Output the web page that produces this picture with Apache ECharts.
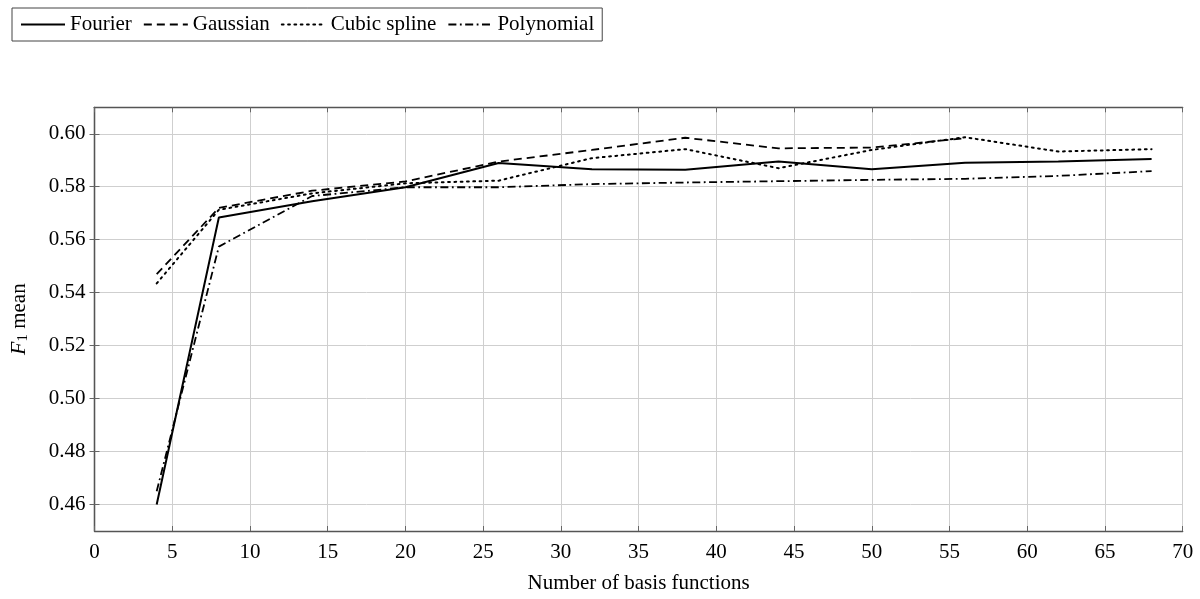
<!DOCTYPE html>
<html>
<head>
<meta charset="utf-8">
<script src="https://cdn.jsdelivr.net/npm/echarts@6/dist/echarts.min.js"></script>
<style>html,body{margin:0;padding:0;background:#fff;}#c{width:1200px;height:599px;}</style>
</head>
<body>
<div id="c"></div>
<script>
const basisCounts = [4, 8, 14, 20, 26, 32, 38, 44, 50, 56, 62, 68];
const fourier    = [0.460, 0.5684, 0.5745, 0.5798, 0.5890, 0.5866, 0.5864, 0.5895, 0.5866, 0.5891, 0.5895, 0.5905];
const gaussian   = [0.547, 0.5720, 0.5785, 0.5820, 0.5895, 0.5939, 0.5985, 0.5945, 0.5948, 0.5983, null, null];
const cubicSpline= [0.5435, 0.5713, 0.5775, 0.5813, 0.5823, 0.5908, 0.5942, 0.5870, 0.5939, 0.5987, 0.5933, 0.5942];
const polynomial = [0.465, 0.5574, 0.5765, 0.5798, 0.5798, 0.5810, 0.5816, 0.5821, 0.5826, 0.5830, 0.5841, 0.5859];
const yTicks = [0.46, 0.48, 0.50, 0.52, 0.54, 0.56, 0.58, 0.60];
const seriesNames = ['Fourier', 'Gaussian', 'Cubic spline', 'Polynomial'];

const FONT = 'Liberation Serif';
function pairs(arr) {
  const out = [];
  basisCounts.forEach((x, i) => { if (arr[i] !== null) out.push([x, arr[i]]); });
  return out;
}
const styles = [
  { type: 'solid', width: 2 },
  { type: [8, 5], width: 1.8 },
  { type: [1.8, 4.5], width: 2, cap: 'round' },
  { type: [8, 3.5, 1.8, 3.5], width: 1.8 }
];
const dataSets = [fourier, gaussian, cubicSpline, polynomial];

const chart = echarts.init(document.getElementById('c'), null, { renderer: 'canvas' });
const axisLineStyle = { color: '#555', width: 1.3 };
const tickStyle = { color: '#666', width: 1 };
chart.setOption({
  animation: false,
  backgroundColor: '#fff',
  textStyle: { fontFamily: FONT },
  legend: {
    left: 12, top: 8,
    orient: 'horizontal',
    data: seriesNames,
    itemWidth: 44, itemHeight: 12, itemGap: 11,
    padding: [6, 8, 6, 8],
    borderColor: '#444', borderWidth: 1,
    backgroundColor: '#fff',
    itemStyle: { opacity: 0 },
    textStyle: { fontFamily: FONT, fontSize: 21, color: '#000' }
  },
  grid: { left: 92.3, right: 17.3, top: 107.3, bottom: 67.3, containLabel: false },
  xAxis: [{
    type: 'value', min: 0, max: 70, interval: 5,
    name: 'Number of basis functions', nameLocation: 'middle', nameGap: 42,
    nameTextStyle: { fontFamily: FONT, fontSize: 21, color: '#000' },
    axisLine: { show: true, lineStyle: axisLineStyle },
    axisTick: { show: true, inside: true, length: 5, lineStyle: tickStyle },
    axisLabel: { fontFamily: FONT, fontSize: 21, color: '#000', margin: 11 },
    splitLine: { show: true, lineStyle: { color: '#cfcfcf', width: 1 } }
  }, {
    type: 'value', min: 0, max: 70, interval: 5, position: 'top',
    axisLine: { show: true, lineStyle: axisLineStyle },
    axisTick: { show: true, inside: true, length: 5, lineStyle: tickStyle },
    axisLabel: { show: false }, splitLine: { show: false }
  }],
  yAxis: [{
    type: 'value', min: 0.45, max: 0.61,
    name: '{i|F}{s|1} mean', nameLocation: 'middle', nameGap: 64, nameRotate: 90,
    nameTextStyle: {
      fontFamily: FONT, fontSize: 21, color: '#000',
      rich: {
        i: { fontFamily: FONT, fontSize: 22, fontStyle: 'italic', color: '#000' },
        s: { fontFamily: FONT, fontSize: 15, color: '#000', verticalAlign: 'bottom', padding: [8, 0, 0, 0] }
      }
    },
    axisLine: { show: true, lineStyle: axisLineStyle },
    axisTick: { show: true, inside: true, length: 5, lineStyle: tickStyle, customValues: yTicks },
    axisLabel: { fontFamily: FONT, fontSize: 21, color: '#000', margin: 9, customValues: yTicks,
      formatter: v => v.toFixed(2) },
    splitLine: { show: true, lineStyle: { color: '#cfcfcf', width: 1 } }
  }, {
    type: 'value', min: 0.45, max: 0.61, position: 'right',
    axisLine: { show: true, lineStyle: axisLineStyle },
    axisTick: { show: true, inside: true, length: 5, lineStyle: tickStyle, customValues: yTicks },
    axisLabel: { show: false, customValues: yTicks }, splitLine: { show: false }
  }],
  series: seriesNames.map((name, k) => ({
    name, type: 'line', xAxisIndex: 0, yAxisIndex: 0,
    data: pairs(dataSets[k]),
    symbol: 'none', showSymbol: false,
    lineStyle: Object.assign({ color: '#000' }, styles[k]),
    itemStyle: { color: '#000' },
    z: 10 - k
  }))
});
</script>
</body>
</html>
